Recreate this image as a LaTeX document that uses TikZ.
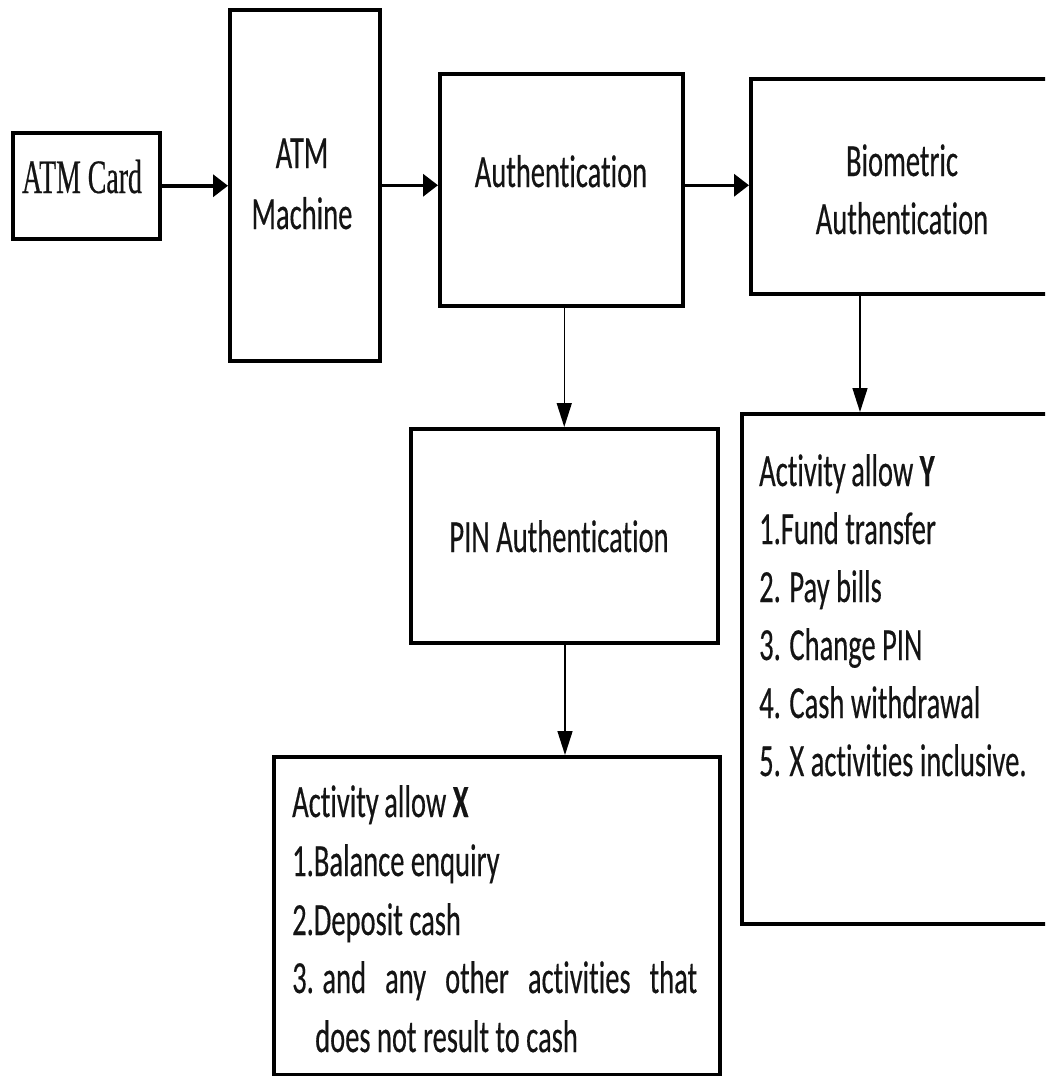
\documentclass[tikz,border=0pt]{standalone}
\usepackage{fontspec}
\usetikzlibrary{arrows.meta,calc}
\newfontfamily\calfont{Carlito}[FakeStretch=0.62, FakeBold=0.3, Ligatures=NoCommon]
\newfontfamily\serfont{Liberation Serif}[FakeStretch=0.58, FakeBold=0.4]
\begin{document}
\begin{tikzpicture}[x=1pt,y=-1pt,
  box/.style={draw=black, line width=3.5pt, fill=white, inner sep=0pt, anchor=north west},
  lbl/.style={inner sep=0pt, text=black!92, font=\calfont\fontsize{46}{58}\selectfont},
  lst/.style={lbl, anchor=base west},
  harrow/.style={line width=3.5pt, -{Triangle[length=15pt,width=22pt]}},
  varrow/.style={line width=1.5pt, -{Triangle[length=24pt,width=15pt]}}]
\useasboundingbox (0,0) rectangle (1045,1076);
\clip (0,0) rectangle (1045,1076);
\fill[white] (0,0) rectangle (1045,1076);

% boxes
\node[box, minimum width=147pt, minimum height=106pt] (card) at (11,131) {};
\node[box, minimum width=150pt, minimum height=351pt] (machine) at (228,8) {};
\node[box, minimum width=243pt, minimum height=232pt] (auth) at (438,72) {};
\node[box, minimum width=320pt, minimum height=215pt] (bio) at (749,77) {};
\node[box, minimum width=307pt, minimum height=214pt] (pin) at (409,427) {};
\node[box, minimum width=446pt, minimum height=318pt] (actx) at (272,755) {};
\node[box, minimum width=330pt, minimum height=510pt] (acty) at (740,412) {};

% box texts
\node[lbl, anchor=base, font=\serfont\fontsize{48}{58}\selectfont] (tcard) at (82,193) {ATM Card};
\node[lbl, anchor=base] (tatm) at (302,168) {ATM};
\node[lbl, anchor=base] (tmach) at (302,229) {Machine};
\node[lbl, anchor=base] (tauth) at (561,187) {Authentication};
\node[lbl, anchor=base] (tbio1) at (902,176) {Biometric};
\node[lbl, anchor=base] (tbio2) at (902,234) {Authentication};
\node[lbl, anchor=base] (tpin) at (559,552) {PIN Authentication};

% list Y
\node[lst] (y0) at (759,486) {Activity\hspace{0.12em}allow \textbf{Y}};
\node[lst] (y1) at (759,544) {1.Fund transfer};
\node[lst] (y2) at (759,602) {2. Pay bills};
\node[lst] (y3) at (759,660) {3. Change PIN};
\node[lst] (y4) at (759,718) {4. Cash withdrawal};
\node[lst] (y5) at (759,776) {5. X activities inclusive.};

% list X
\node[lst] (x0) at (292,817) {Activity\hspace{0.12em}allow \textbf{X}};
\node[lst] (x1) at (292,876) {1.Balance enquiry};
\node[lst] (x2) at (292,935) {2.Deposit cash};
\node[lst] (x3) at (292,993) {\hbox to 405pt{3. and\hfill any\hfill other\hfill activities\hfill that}};
\node[lst] (x4) at (315,1052) {does not result to cash};

% connectors
\draw[harrow] (card.east) -- (card.east -| machine.west);
\draw[harrow] (machine.east) -- (machine.east -| auth.west);
\draw[harrow] (auth.east |- machine.east) -- (bio.west |- machine.east);
\draw[varrow] (pin.north |- auth.south) -- (pin.north);
\coordinate (bfoot) at (860,292);
\draw[varrow] (bfoot) -- (bfoot |- acty.north);
\coordinate (pfoot) at (565,641);
\draw[varrow] (pfoot) -- (pfoot |- actx.north);
\end{tikzpicture}
\end{document}
